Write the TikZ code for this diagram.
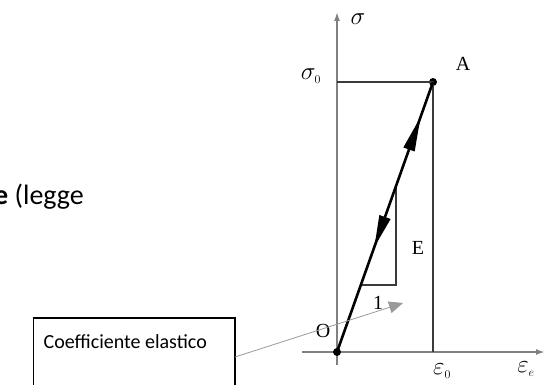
\documentclass[tikz,border=0pt]{standalone}
\usepackage{fontspec}
\setmainfont{Carlito}
\newfontfamily\figfont{Liberation Serif}
\usetikzlibrary{arrows.meta,calc}
\definecolor{axisgray}{HTML}{808080}
\definecolor{linegray}{HTML}{3A3A3A}
\definecolor{ptrgray}{HTML}{9A9A9A}
\tikzset{
  axisline/.style={draw=axisgray, line width=1.6pt, -{Latex[length=9pt,width=6pt]}},
  guide/.style={draw=linegray, line width=1.1pt},
  mainline/.style={draw=black, line width=2.6pt},
  dot/.style={circle, fill=black, inner sep=0pt, minimum size=8pt},
  lab/.style={inner sep=0pt, font=\figfont\fontsize{20}{20}\selectfont},
  pointer/.style={draw=ptrgray, line width=0.8pt, -{Triangle[length=14pt,width=12pt]}},
  callout/.style={draw=black, line width=1.3pt},
}
\begin{document}
\begin{tikzpicture}[x=1pt,y=-1pt]
\useasboundingbox (0,0) rectangle (546,385);
% axes
\coordinate (vb) at (337,365);
\coordinate (vt) at (337,12);
\coordinate (hl) at (302,352);
\coordinate (hr) at (545,352);
\draw[axisline] (vb) -- (vt);
\draw[axisline, line width=2.4pt] (hl) -- (hr);
% points
\node[dot] (O) at (337,352) {};
\node[dot] (A) at (433,82) {};
\coordinate (s0) at (337,82);
\coordinate (e0) at (433,352);
\draw[guide] (s0) -- (A.center) -- (e0);
% slope triangle
\coordinate (t1) at (361.5,285);
\coordinate (t2) at (396,285);
\coordinate (t3) at (396,188);
\draw[guide] (t1) -- (t2) -- (t3);
% main line
\draw[mainline] (O.center) -- (A.center);
% arrowheads on the main line
\path (O.center) -- (A.center)
  coordinate[pos=0.87] (upTip) coordinate[pos=0.75] (upBase)
  coordinate[pos=0.39] (dnTip) coordinate[pos=0.50] (dnBase);
\fill[black] (upTip) -- ($(upBase)!6pt!90:(upTip)$) -- ($(upBase)!6pt!-90:(upTip)$) -- cycle;
\fill[black] (dnTip) -- ($(dnBase)!6pt!90:(dnTip)$) -- ($(dnBase)!6pt!-90:(dnTip)$) -- cycle;
% labels
\node[lab, font=\fontsize{26}{26}\selectfont] (sig) at (358,19) {$\sigma$};
\node[lab, font=\fontsize{24}{24}\selectfont] (sig0) at (311,76) {$\sigma_{\scriptscriptstyle 0}$};
\node[lab] (Alab) at (463,64) {A};
\node[lab] (Olab) at (323,331) {O};
\node[lab] (Elab) at (418,248) {E};
\node[lab] (one) at (378,303) {1};
\node[lab, font=\fontsize{24}{24}\selectfont] (eps0) at (442,371) {$\varepsilon_{\scriptscriptstyle 0}$};
\node[lab, font=\fontsize{24}{24}\selectfont] (epse) at (526,369) {$\varepsilon_{\scriptscriptstyle e}$};
% text on the left
\node[anchor=base east, inner sep=0pt, font=\fontsize{28}{28}\selectfont] (legge) at (84,204) {\textbf{e} (legge};
% callout box
\node[anchor=base east, inner sep=0pt, font=\fontsize{20}{20}\selectfont] (ctext) at (207,348) {Coefficiente elastico};
\coordinate (bx1) at ($(ctext.west |- 0,318)+(-10,0)$);
\coordinate (bx2) at (235,395);
\draw[callout] (bx1) rectangle (bx2);
\coordinate (ptrStart) at (235,357);
\coordinate (ptrEnd) at (403,303);
\draw[pointer] (ptrStart) -- (ptrEnd);
\end{tikzpicture}
\end{document}
